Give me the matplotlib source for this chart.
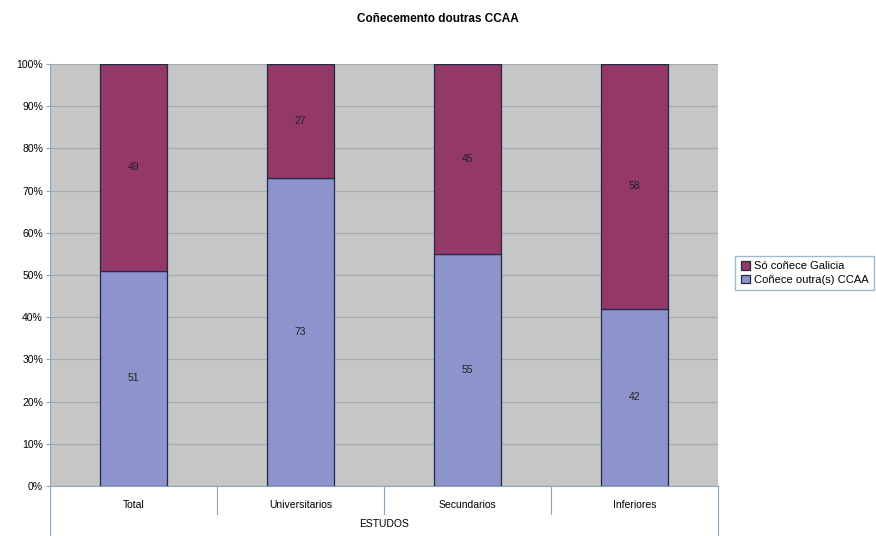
import matplotlib.pyplot as plt
import matplotlib.transforms as mtransforms
import numpy as np

plt.rcParams['font.family'] = ['Liberation Sans', 'DejaVu Sans']

categories = ['Total', 'Universitarios', 'Secundarios', 'Inferiores']
coñece_outras = [51, 73, 55, 42]
so_galicia = [49, 27, 45, 58]
yticks = [0, 10, 20, 30, 40, 50, 60, 70, 80, 90, 100]

blue = '#8d93cc'
purple = '#933867'

fig = plt.figure(figsize=(8.76, 5.36), dpi=100)
ax = fig.add_axes([0.057, 0.0933, 0.7626, 0.7873])
ax.set_facecolor('#c6c6c6')

x = np.arange(len(categories))
b1 = ax.bar(x, coñece_outras, width=0.4, color=blue, edgecolor='#1f2a44', linewidth=0.9,
            label='Coñece outra(s) CCAA', zorder=3)
b2 = ax.bar(x, so_galicia, width=0.4, bottom=coñece_outras, color=purple, edgecolor='#1f2a44',
            linewidth=0.9, label='Só coñece Galicia', zorder=3)

# value labels in the middle of each segment
for i in range(len(categories)):
    ax.text(x[i], coñece_outras[i] / 2, str(coñece_outras[i]), ha='center', va='center',
            fontsize=7.5, color='#222222', zorder=4)
    ax.text(x[i], coñece_outras[i] + so_galicia[i] / 2, str(so_galicia[i]), ha='center',
            va='center', fontsize=7.5, color='#222222', zorder=4)

ax.set_xlim(-0.5, len(categories) - 0.5)
ax.set_ylim(0, 100)
ax.set_yticks(yticks)
ax.set_yticklabels([f'{t}%' for t in yticks], fontsize=7.5)
ax.yaxis.grid(True, color='#a0a8b2', linewidth=0.8, zorder=1)
ax.set_xticks([])
for s in ['top', 'right']:
    ax.spines[s].set_visible(False)
ax.spines['left'].set_color('#8aa6bd')
ax.spines['bottom'].set_color('#8aa6bd')
ax.tick_params(axis='y', length=3, color='#8aa6bd', pad=2)

# category labels and separators below the axis
trans = mtransforms.blended_transform_factory(ax.transData, fig.transFigure)
for i, c in enumerate(categories):
    ax.text(x[i], (536 - 505) / 536, c, transform=trans, ha='center', va='center', fontsize=7.5)
for k in range(len(categories) + 1):
    xs = k - 0.5
    ybot = 0.0 if k in (0, len(categories)) else (536 - 514) / 536
    ax.plot([xs, xs], [0.0933, ybot], transform=trans, color='#8aa6bd', linewidth=0.8,
            clip_on=False)
ax.text(np.mean(x), (536 - 524) / 536, 'ESTUDOS', transform=trans, ha='center', va='center',
        fontsize=7.5)

fig.suptitle('Coñecemento doutras CCAA', x=0.5, y=(536 - 19) / 536, fontsize=8.5,
             fontweight='bold', va='center')

handles = [b2, b1]
leg = fig.legend(handles, [h.get_label() for h in handles], loc='center left',
                 bbox_to_anchor=(0.833, (536 - 273) / 536), fontsize=8, frameon=True,
                 fancybox=False, edgecolor='#8aa6bd', handlelength=0.8, handleheight=0.8,
                 handletextpad=0.4, borderpad=0.5, labelspacing=0.3)

fig.savefig('out.png', dpi=100)
